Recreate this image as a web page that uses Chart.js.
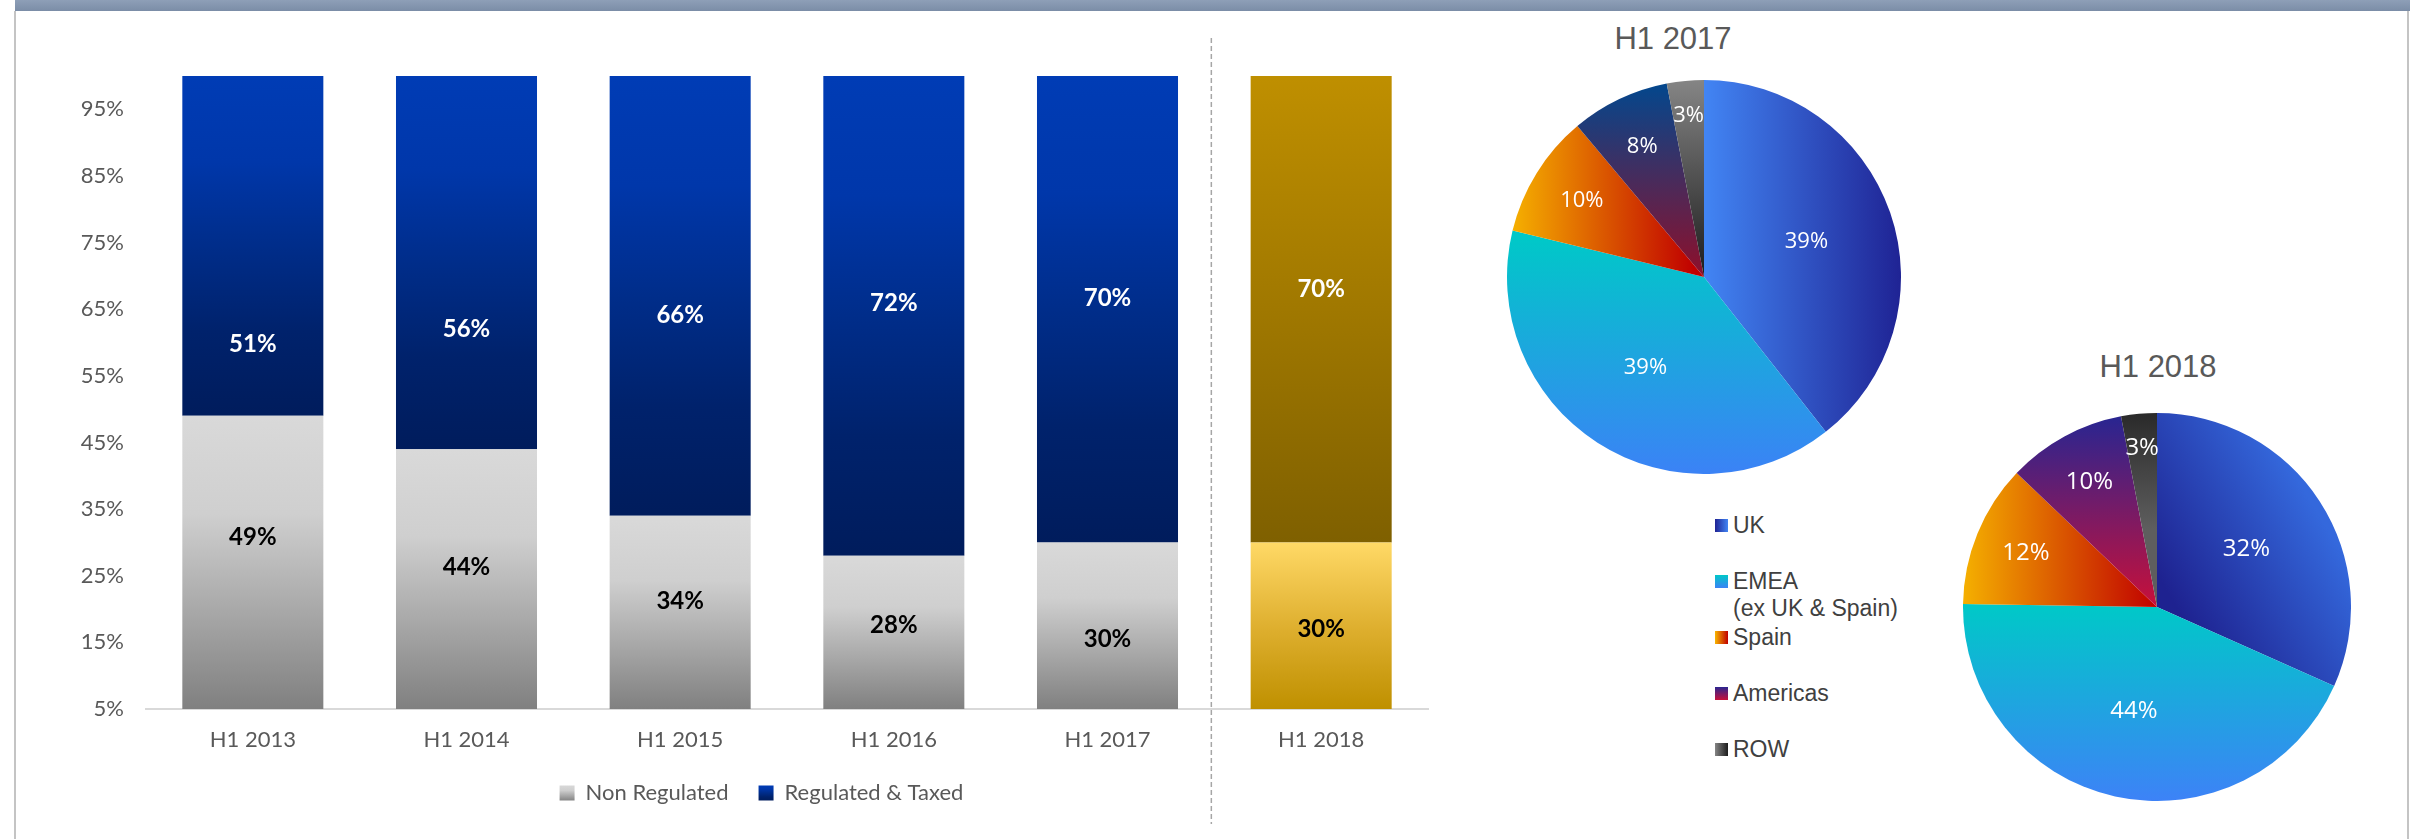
<!DOCTYPE html>
<html>
<head>
<meta charset="utf-8">
<script src="https://cdn.jsdelivr.net/npm/chart.js@4/dist/chart.umd.min.js"></script>
<style>
  html, body { margin: 0; padding: 0; background: #fff; }
  body { width: 2420px; height: 839px; position: relative; overflow: hidden; }
  .band { position: absolute; left: 15px; top: 0; width: 2395px; height: 11px; background: linear-gradient(#8e9fb7, #7b8da7); }
  .edge { position: absolute; top: 11px; bottom: 0; width: 2px; background: #c4c4c4; }
  .box { position: absolute; }
  .pie-title { position: absolute; transform: translate(-50%, -50%); white-space: nowrap;
               font: 31px "Liberation Sans", Arial, sans-serif; color: #595959; }
  .key { position: absolute; left: 1715px; font: 23px/27px "Liberation Sans", Arial, sans-serif;
         color: #404040; white-space: pre-line; padding-left: 18px; }
  .key i { position: absolute; left: 0; top: 7px; width: 13px; height: 13px; }
</style>
</head>
<body>
<div class="band"></div>
<div class="edge" style="left:14px"></div>
<div class="edge" style="left:2407px"></div>

<div class="box" style="left:15px; top:11px; width:1490px; height:828px"><canvas id="barChart"></canvas></div>

<div class="pie-title" style="left:1673px; top:39px">H1 2017</div>
<div class="box" style="left:1507px; top:80px; width:394px; height:394px"><canvas id="pie2017"></canvas></div>

<div class="pie-title" style="left:2158px; top:367px">H1 2018</div>
<div class="box" style="left:1963px; top:413px; width:388px; height:388px"><canvas id="pie2018"></canvas></div>

<div id="pieKey"></div>

<script>
// half-year mix, in % of revenue
const periods = ['H1 2013', 'H1 2014', 'H1 2015', 'H1 2016', 'H1 2017', 'H1 2018'];
const nonRegulated = [49, 44, 34, 28, 30, 30];
const regulated = [51, 56, 66, 72, 70, 70];
const yTicks = [5, 15, 25, 35, 45, 55, 65, 75, 85, 95];

// value labels sit at these axis values
const nonRegLabelAt = [30.7, 26.3, 21.1, 17.5, 15.4, 16.9];
const regLabelAt = [59.7, 62.0, 64.1, 65.9, 66.6, 68.0];

// regional split
const regions = ['UK', 'EMEA\n(ex UK & Spain)', 'Spain', 'Americas', 'ROW'];
const share2017 = [39, 39, 10, 8, 3];
const share2018 = [32, 44, 12, 10, 3];

// colours
const greyLow = ['#d9d9d9', '#cfcfcf', '#a8a8a8', '#808080'];
const blueHigh = ['#003cb5', '#0037aa', '#002d8a', '#00226c', '#001c5c'];
const goldLow = ['#ffd966', '#dfb030', '#bf9000'];
const goldHigh = ['#bf8f00', '#a07800', '#7f6000'];

const shades2017 = [
  { from: [0, 0], to: [1, 0], colors: ['#4285f4', '#1f2394'] },
  { from: [0, -0.2], to: [0, 1], colors: ['#00c8c8', '#3b82f6'] },
  { from: [-1, 0], to: [-0.05, 0], colors: ['#f7b500', '#c00000'] },
  { from: [0, -1], to: [0, 0], colors: ['#00488f', '#8e0f2a'] },
  { from: [0, -1], to: [0, 0], colors: ['#858585', '#1c1c1c'] }
];
const shades2018 = [
  { from: [0.1, 0], to: [0.85, -0.45], colors: ['#1e2290', '#3468dc'] },
  { from: [0, 0], to: [0, 1], colors: ['#00c8c8', '#3d82f7'] },
  { from: [-1, 0], to: [0, 0], colors: ['#f5b000', '#c00000'] },
  { from: [0, -0.97], to: [0, 0], colors: ['#2a2590', '#c8103a'] },
  { from: [0, -1], to: [0, -0.4], colors: ['#2a2a2a', '#5e5e5e'] }
];
const keySwatches = [
  'linear-gradient(90deg, #1f2394, #4285f4)',
  'linear-gradient(#00c8c8, #3b82f6)',
  'linear-gradient(90deg, #f7b500, #c00000)',
  'linear-gradient(#2a2590, #c8103a)',
  'linear-gradient(90deg, #858585, #1c1c1c)'
];

const textGrey = '#595959';

function addStops(g, stops) {
  stops.forEach((c, k) => g.addColorStop(k / (stops.length - 1), c));
  return g;
}

function barFill(ctx) {
  const chart = ctx.chart;
  const area = chart.chartArea;
  const lower = ctx.datasetIndex === 0;
  const hot = ctx.dataIndex === periods.length - 1;
  const stops = lower ? (hot ? goldLow : greyLow) : (hot ? goldHigh : blueHigh);
  if (!area || ctx.type !== 'data') return stops[1];
  const y = chart.scales.y;
  const i = ctx.dataIndex;
  let top, bottom;
  if (lower) {
    top = y.getPixelForValue(nonRegulated[i]);
    bottom = area.bottom;
  } else {
    top = y.getPixelForValue(nonRegulated[i] + regulated[i]);
    bottom = y.getPixelForValue(nonRegulated[i]);
  }
  return addStops(chart.ctx.createLinearGradient(0, top, 0, bottom), stops);
}

// legend sits a little right of the canvas centre, with shaded boxes
const legendShade = {
  id: 'legendShade',
  afterLayout(chart) {
    const lg = chart.legend;
    if (!lg) return;
    lg.left += 40;
    lg.right += 40;
  },
  beforeDraw(chart) {
    const lg = chart.legend;
    if (!lg || !lg.legendHitBoxes) return;
    lg.legendItems.forEach((item, i) => {
      const hb = lg.legendHitBoxes[i];
      if (!hb) return;
      const g = chart.ctx.createLinearGradient(0, hb.top + 3, 0, hb.top + hb.height - 3);
      item.fillStyle = addStops(g, i === 0 ? greyLow : blueHigh);
    });
  }
};

// dashed line between the past periods and the current one
const divider = {
  id: 'divider',
  afterDraw(chart) {
    const { ctx, chartArea } = chart;
    const x = chart.scales.x.getPixelForValue(periods.length - 1.5) - 3;
    ctx.save();
    ctx.strokeStyle = '#a6a6a6';
    ctx.lineWidth = 1.5;
    ctx.setLineDash([5, 3]);
    ctx.beginPath();
    ctx.moveTo(x, chartArea.top - 38);
    ctx.lineTo(x, chart.height - 15);
    ctx.stroke();
    ctx.restore();
  }
};

const barValues = {
  id: 'barValues',
  afterDatasetsDraw(chart) {
    const { ctx } = chart;
    const y = chart.scales.y;
    ctx.save();
    ctx.font = 'bold 24px Lato';
    ctx.textAlign = 'center';
    ctx.textBaseline = 'middle';
    [nonRegLabelAt, regLabelAt].forEach((at, d) => {
      const values = chart.data.datasets[d].data;
      ctx.fillStyle = d === 0 ? '#000' : '#fff';
      chart.getDatasetMeta(d).data.forEach((bar, i) => {
        ctx.fillText(values[i] + '%', bar.x, y.getPixelForValue(at[i]));
      });
    });
    ctx.restore();
  }
};

new Chart(document.getElementById('barChart'), {
  type: 'bar',
  data: {
    labels: periods,
    datasets: [
      { label: 'Non Regulated', data: nonRegulated, backgroundColor: barFill, clip: 0 },
      { label: 'Regulated & Taxed', data: regulated, backgroundColor: barFill, clip: 0 }
    ]
  },
  options: {
    responsive: true,
    maintainAspectRatio: false,
    animation: false,
    categoryPercentage: 1,
    barPercentage: 0.66,
    layout: { padding: { top: 65, right: 77, bottom: 25, left: 0 } },
    scales: {
      x: {
        stacked: true,
        grid: { display: false, drawTicks: false },
        border: { color: '#d9d9d9', width: 2 },
        ticks: { color: textGrey, font: { family: 'Lato', size: 22 }, padding: 18 },
        afterFit: s => { s.height = 43; }
      },
      y: {
        stacked: true,
        min: 5,
        max: 100,
        grid: { display: false, drawTicks: false },
        border: { display: false },
        afterBuildTicks: s => { s.ticks = yTicks.map(v => ({ value: v })); },
        ticks: { color: textGrey, font: { family: 'Lato', size: 22 }, padding: 22, callback: v => v + '%' },
        afterFit: s => { s.width = 131; }
      }
    },
    plugins: {
      legend: {
        position: 'bottom',
        labels: { boxWidth: 15, boxHeight: 15, padding: 30, color: textGrey, font: { family: 'Lato', size: 22 } }
      },
      tooltip: { enabled: false }
    }
  },
  plugins: [legendShade, divider, barValues]
});

function pieFill(shades) {
  return ctx => {
    const s = shades[ctx.dataIndex];
    const area = ctx.chart.chartArea;
    if (!s) return '#999';
    if (!area) return s.colors[0];
    const cx = (area.left + area.right) / 2;
    const cy = (area.top + area.bottom) / 2;
    const r = Math.min(area.width, area.height) / 2;
    const g = ctx.chart.ctx.createLinearGradient(cx + s.from[0] * r, cy + s.from[1] * r, cx + s.to[0] * r, cy + s.to[1] * r);
    return addStops(g, s.colors);
  };
}

// percent labels inside slices, small slices pushed outwards
const sliceValues = {
  id: 'sliceValues',
  afterDatasetsDraw(chart, args, opts) {
    const { ctx } = chart;
    const values = chart.data.datasets[0].data;
    ctx.save();
    ctx.fillStyle = '#fff';
    ctx.font = opts.size + 'px "Open Sans"';
    ctx.textAlign = 'center';
    ctx.textBaseline = 'middle';
    chart.getDatasetMeta(0).data.forEach((arc, i) => {
      const { x, y, startAngle, endAngle, outerRadius } = arc.getProps(['x', 'y', 'startAngle', 'endAngle', 'outerRadius'], true);
      const mid = (startAngle + endAngle) / 2;
      const k = values[i] >= 25 ? 0.55 : values[i] >= 5 ? 0.73 : 0.82;
      ctx.fillText(values[i] + '%', x + Math.cos(mid) * outerRadius * k, y + Math.sin(mid) * outerRadius * k);
    });
    ctx.restore();
  }
};

function makePie(id, shares, shades, fontSize) {
  return new Chart(document.getElementById(id), {
    type: 'pie',
    data: {
      labels: regions,
      datasets: [{ data: shares, backgroundColor: pieFill(shades), borderWidth: 0 }]
    },
    options: {
      responsive: true,
      maintainAspectRatio: false,
      animation: false,
      plugins: {
        legend: { display: false },
        tooltip: { enabled: false },
        sliceValues: { size: fontSize }
      }
    },
    plugins: [sliceValues]
  });
}

makePie('pie2017', share2017, shades2017, 22);
makePie('pie2018', share2018, shades2018, 24);

// legend shared by both pies
const key = document.getElementById('pieKey');
regions.forEach((name, i) => {
  const row = document.createElement('div');
  row.className = 'key';
  row.style.top = (525 + 56 * i - 13.5) + 'px';
  const sw = document.createElement('i');
  sw.style.background = keySwatches[i];
  row.appendChild(sw);
  row.appendChild(document.createTextNode(name));
  key.appendChild(row);
});
</script>
</body>
</html>
